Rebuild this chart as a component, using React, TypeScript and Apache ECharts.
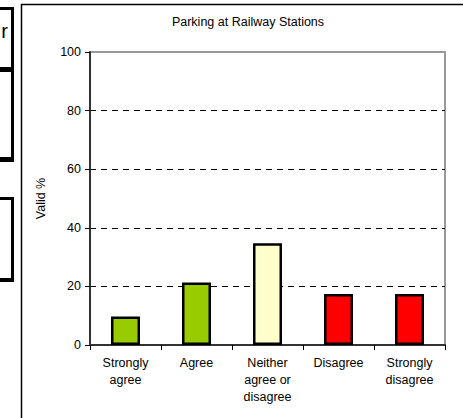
import React, { useEffect, useRef } from "react";
import * as echarts from "echarts";

const categories = ["Strongly\nagree", "Agree", "Neither\nagree or\ndisagree", "Disagree", "Strongly\ndisagree"];
const values = [9.7, 21.3, 34.7, 17.4, 17.4];
const barColors = ["#99CC00", "#99CC00", "#FFFFCC", "#FF0000", "#FF0000"];
const yMin = 0;
const yMax = 100;
const yInterval = 20;
const titleText = "Parking at Railway Stations";
const yAxisName = "Valid %";

const FONT = "'Liberation Sans', Arial, sans-serif";
const FS = 12.5;

export default function App() {
  const ref = useRef<HTMLDivElement>(null);
  useEffect(() => {
    if (!ref.current) return;
    const chart = echarts.init(ref.current, null, { renderer: "svg" });
    const blk = (x: number, y: number, w: number, h: number) => ({
      type: "rect",
      shape: { x, y, width: w, height: h },
      style: { fill: "#000" },
      silent: true,
    });
    chart.setOption({
      animation: false,
      backgroundColor: "#fff",
      textStyle: { fontFamily: FONT },
      grid: {
        left: 90,
        right: 18,
        top: 52,
        bottom: 73,
        show: true,
        borderColor: "#999",
        borderWidth: 2,
        backgroundColor: "transparent",
      },
      xAxis: {
        type: "category",
        data: categories,
        axisLine: { show: true, lineStyle: { color: "#333", width: 2 } },
        axisTick: { show: true, alignWithLabel: false, length: 5, lineStyle: { color: "#000", width: 1 } },
        axisLabel: { color: "#000", fontSize: FS, fontFamily: FONT, lineHeight: 17, margin: 9, interval: 0 },
        splitLine: { show: false },
      },
      yAxis: {
        type: "value",
        min: yMin,
        max: yMax,
        interval: yInterval,
        name: yAxisName,
        nameLocation: "middle",
        nameGap: 43,
        nameTextStyle: { color: "#000", fontSize: FS, fontFamily: FONT },
        axisLine: { show: true, lineStyle: { color: "#333", width: 2 } },
        axisTick: { show: true, length: 5, lineStyle: { color: "#000", width: 1 } },
        axisLabel: { color: "#000", fontSize: FS, fontFamily: FONT, margin: 9 },
        splitLine: {
          show: true,
          lineStyle: {
            color: ["transparent", "#000", "#000", "#000", "#000", "transparent"],
            type: [6, 5],
            width: 1,
          },
        },
      },
      series: [
        {
          type: "bar",
          barWidth: 29,
          data: values.map((v, i) => ({
            value: v,
            itemStyle: { color: barColors[i], borderColor: "#000", borderWidth: 2.5 },
          })),
        },
      ],
      graphic: [
        {
          type: "polyline",
          shape: { points: [[21.5, 418], [21.5, 4.5], [463, 4.5]] },
          style: { stroke: "#000", lineWidth: 1.5, fill: "none" },
          silent: true,
        },
        {
          type: "text",
          x: 248,
          y: 22,
          style: {
            text: titleText,
            fontSize: FS,
            fontFamily: FONT,
            fill: "#000",
            textAlign: "center",
            textVerticalAlign: "middle",
          },
        },
        {
          type: "text",
          x: 8,
          y: 41,
          style: {
            text: "r",
            fontSize: 20,
            fontFamily: FONT,
            fill: "#000",
            textAlign: "right",
            textVerticalAlign: "bottom",
          },
        },
        blk(0, 7, 14, 3),
        blk(11, 7, 3, 155),
        blk(0, 67, 14, 5),
        blk(0, 157, 14, 5),
        blk(0, 197, 14, 3),
        blk(11, 197, 3, 85),
        blk(0, 278, 14, 4),
      ],
    });
    return () => chart.dispose();
  }, []);
  return (
    <div
      ref={ref}
      style={{ position: "fixed", left: 0, top: 0, width: 463, height: 418 }}
    />
  );
}
